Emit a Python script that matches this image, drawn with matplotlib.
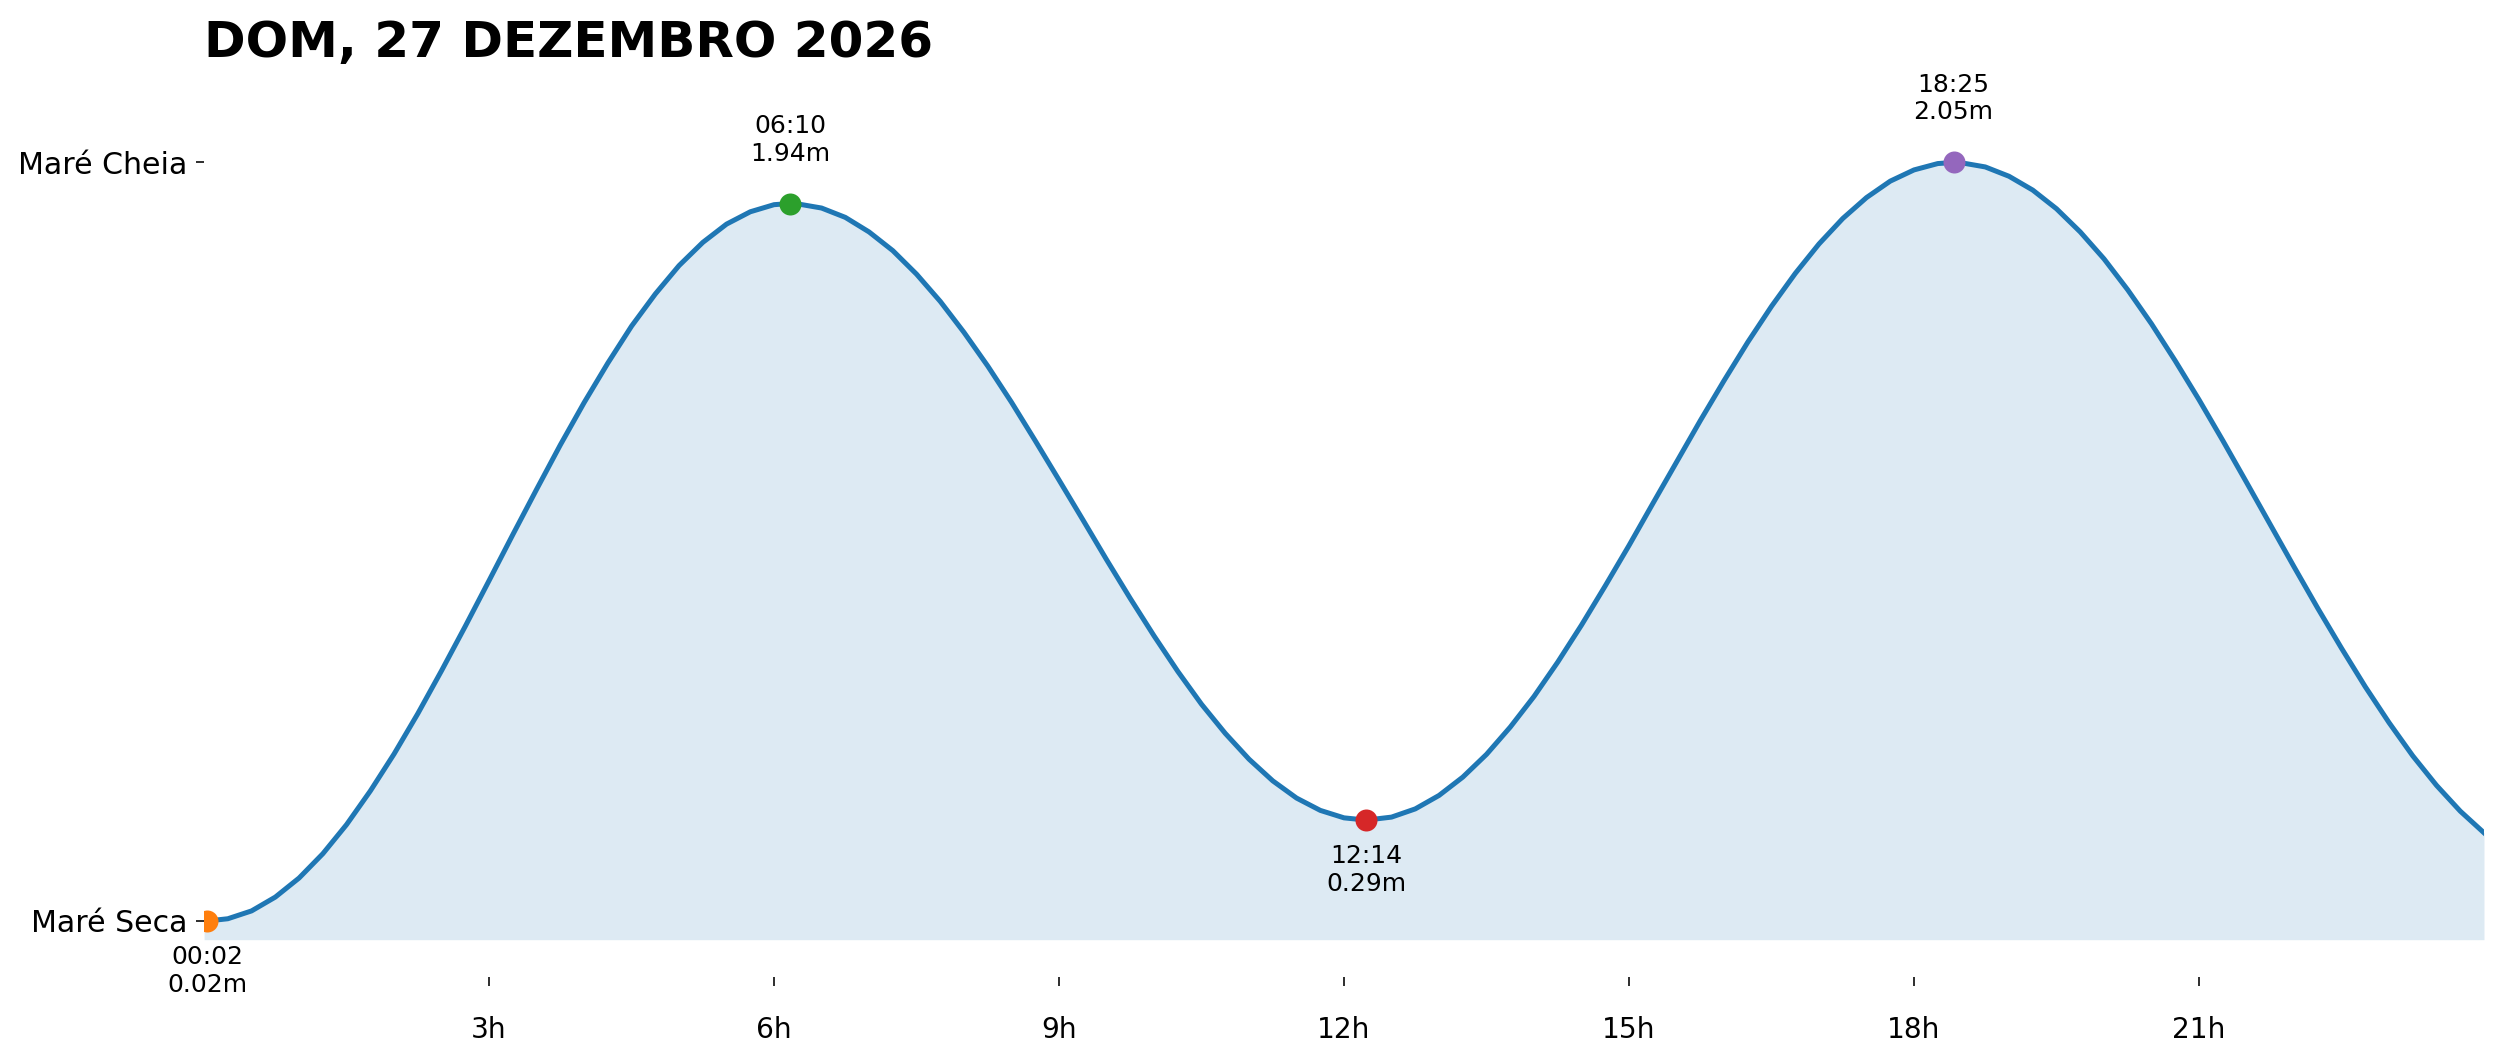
import numpy as np
import matplotlib.pyplot as plt

title = 'DOM, 27 DEZEMBRO 2026'

# extremes of the day (time, height in m, kind)
tide_times = ['00:02', '06:10', '12:14', '18:25']
tide_heights = [0.02, 1.94, 0.29, 2.05]
tide_kind = ['low', 'high', 'low', 'high']

# tide curve every 15 min (hours, metres)
curve_hours = [0.0, 0.0333, 0.25, 0.5, 0.75, 1.0, 1.25, 1.5, 1.75, 2.0, 2.25, 2.5, 2.75,
               3.0, 3.25, 3.5, 3.75, 4.0, 4.25, 4.5, 4.75, 5.0, 5.25, 5.5, 5.75, 6.0, 6.1667,
               6.25, 6.5, 6.75, 7.0, 7.25, 7.5, 7.75, 8.0, 8.25, 8.5, 8.75, 9.0, 9.25,
               9.5, 9.75, 10.0, 10.25, 10.5, 10.75, 11.0, 11.25, 11.5, 11.75, 12.0, 12.2333,
               12.5, 12.75, 13.0, 13.25, 13.5, 13.75, 14.0, 14.25, 14.5, 14.75, 15.0, 15.25,
               15.5, 15.75, 16.0, 16.25, 16.5, 16.75, 17.0, 17.25, 17.5, 17.75, 18.0, 18.25, 18.4167,
               18.5, 18.75, 19.0, 19.25, 19.5, 19.75, 20.0, 20.25, 20.5, 20.75, 21.0, 21.25,
               21.5, 21.75, 22.0, 22.25, 22.5, 22.75, 23.0, 23.25, 23.5, 23.75, 24.0]
curve_heights = [0.020, 0.020, 0.026, 0.047, 0.084, 0.135, 0.200, 0.278, 0.368, 0.467, 0.575, 0.690, 0.809,
                 0.931, 1.054, 1.175, 1.294, 1.407, 1.513, 1.612, 1.698, 1.774, 1.836, 1.885, 1.918, 1.937, 1.940,
                 1.939, 1.928, 1.903, 1.864, 1.814, 1.751, 1.678, 1.595, 1.505, 1.408, 1.305, 1.200, 1.094,
                 0.987, 0.883, 0.783, 0.688, 0.600, 0.522, 0.453, 0.395, 0.349, 0.316, 0.296, 0.290,
                 0.298, 0.320, 0.356, 0.405, 0.466, 0.539, 0.621, 0.713, 0.812, 0.917, 1.025, 1.137,
                 1.248, 1.359, 1.466, 1.569, 1.665, 1.753, 1.832, 1.900, 1.956, 2.000, 2.030, 2.047, 2.050,
                 2.049, 2.038, 2.013, 1.976, 1.926, 1.864, 1.792, 1.709, 1.618, 1.519, 1.415, 1.306,
                 1.194, 1.081, 0.968, 0.857, 0.750, 0.647, 0.551, 0.462, 0.383, 0.314, 0.256]

xtick_hours = [3, 6, 9, 12, 15, 18, 21]
ytick_names = ['Maré Seca', 'Maré Cheia']

x = np.array(curve_hours)
y = np.array(curve_heights)
hmin = min(tide_heights)
hmax = max(tide_heights)

dpi = 144
fig = plt.figure(figsize=(2501 / dpi, 1062 / dpi), dpi=dpi)
ax = fig.add_axes([0.0816, 0.080, 0.9116, 0.855])

ax.plot(x, y, color='C0', lw=2.5, zorder=2, solid_joinstyle='round')
ax.fill_between(x, y, hmin - 0.05, color='C0', alpha=0.15, lw=0, zorder=1)

for i, (t, h, k) in enumerate(zip(tide_times, tide_heights, tide_kind)):
    hh, mm = t.split(':')
    tx = int(hh) + int(mm) / 60
    ax.plot(tx, h, 'o', color=f'C{i + 1}', ms=10, zorder=3)
    if k == 'high':
        ax.annotate(f'{t}\n{h:.2f}m', (tx, h), xytext=(0, 19), textcoords='offset points',
                    ha='center', va='bottom', fontsize=12.5)
    else:
        ax.annotate(f'{t}\n{h:.2f}m', (tx, h), xytext=(0, -12), textcoords='offset points',
                    ha='center', va='top', fontsize=12.5)

ax.set_xlim(0, 24)
ax.set_ylim(hmin - 0.15, hmax + 0.25)
ax.set_xticks(xtick_hours)
ax.set_xticklabels([f'{h}h' for h in xtick_hours])
ax.set_yticks([hmin, hmax])
ax.set_yticklabels(ytick_names)
ax.tick_params(axis='x', labelsize=14, length=4.5, pad=15)
ax.tick_params(axis='y', labelsize=15, length=4, pad=4.5)
for s in ax.spines.values():
    s.set_visible(False)

ax.set_title(title, loc='left', fontsize=25, fontweight='bold')

fig.savefig('out.png', dpi=dpi)
